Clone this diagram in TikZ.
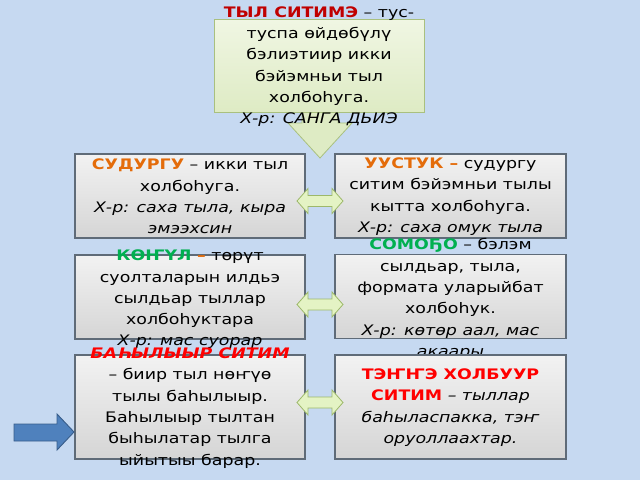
\documentclass[tikz,border=0pt]{standalone}
\usepackage{fontspec}
\setmainfont{DejaVu Sans}[FakeStretch=1.2]
\definecolor{bgblue}{HTML}{C6D9F1}
\definecolor{boxtop}{HTML}{F2F2F2}
\definecolor{boxbot}{HTML}{D5D5D5}
\definecolor{boxline}{HTML}{5F6B78}
\definecolor{greentop}{HTML}{F0F6E3}
\definecolor{greenbot}{HTML}{DEEBC4}
\definecolor{greenline}{HTML}{A9C07F}
\definecolor{limefill}{HTML}{E4F3C4}
\definecolor{limeline}{HTML}{9DB86A}
\definecolor{orng}{HTML}{E46C0A}
\definecolor{grn}{HTML}{00B050}
\definecolor{dred}{HTML}{C00000}
\definecolor{bred}{HTML}{FF0000}
\definecolor{blfill}{HTML}{4F81BD}
\definecolor{blline}{HTML}{385D8A}
\begin{document}
\begin{tikzpicture}[x=1pt,y=-1pt,
  graybox/.style={draw=boxline, line width=1.2pt, top color=boxtop, bottom color=boxbot,
    minimum width=230pt, minimum height=84pt, inner sep=0pt, outer sep=0pt},
  greenbox/.style={draw=greenline, line width=0.8pt, top color=greentop, bottom color=greenbot,
    minimum width=210pt, minimum height=93pt, inner sep=0pt, outer sep=0pt},
  txt/.style={align=center, inner sep=0pt, font=\fontsize{14.5}{21.3}\selectfont},
  dbl/.style={fill=limefill, draw=limeline, line width=0.8pt, line join=miter},
]
\useasboundingbox (0,0) rectangle (640,480);
\fill[bgblue] (0,0) rectangle (640,480);

% down arrow behind top box
\draw[fill=greenbot, draw=greenline, line width=0.8pt]
  (302,100) -- (338,100) -- (338,123) -- (352,123) -- (320,158) -- (288,123) -- (302,123) -- cycle;

% top box
\node[greenbox] (top) at (319,65.5) {};
\node[txt] (toptxt) at (319,66.5) {{\bfseries\color{dred}ТЫЛ СИТИМЭ} – тус-\\туспа өйдөбүлү\\бэлиэтиир икки\\бэйэмньи тыл\\холбоһуга.\\\textit{Х-р: САНГА ДЬИЭ}};

% row 1
\node[graybox] (l1) at (190,196) {};
\node[txt] (l1t) at (190,196.5) {{\bfseries\color{orng}СУДУРГУ} – икки тыл\\холбоһуга.\\\textit{Х-р: саха тыла, кыра}\\\textit{эмээхсин}};
\node[graybox, minimum width=231pt] (r1) at (450.5,196) {};
\node[txt] (r1t) at (450.5,196.5) {{\bfseries\color{orng}УУСТУК –} судургу\\ситим бэйэмньи тылы\\кытта холбоһуга.\\\textit{Х-р: саха омук тыла}};

% row 2
\node[graybox] (l2) at (190,297) {};
\node[txt] (l2t) at (190,299.5) {{\bfseries\color{grn}КӨҤҮЛ} {\bfseries\color{orng}–} төрүт\\суолталарын илдьэ\\сылдьар тыллар\\холбоһуктара\\\textit{Х-р: мас суорар}};
\node[graybox, minimum width=231pt] (r2) at (450.5,296.5) {};
\node[txt] (r2t) at (450.5,299) {{\bfseries\color{grn}СОМОҔО} – бэлэм\\сылдьар, тыла,\\формата уларыйбат\\холбоһук.\\\textit{Х-р: көтөр аал, мас}\\\textit{акаары}};

% row 3
\node[graybox, minimum height=104pt] (l3) at (190,407) {};
\node[txt] (l3t) at (190,408) {\itshape{\bfseries\color{bred}БАҺЫЛЫЫР СИТИМ}\\– биир тыл нөҥүө\\тылы баһылыыр.\\Баһылыыр тылтан\\быһылатар тылга\\ыйытыы барар.};
\node[graybox, minimum width=231pt, minimum height=104pt] (r3) at (450.5,407) {};
\node[txt] (r3t) at (450.5,407.5) {{\bfseries\color{bred}ТЭҤҤЭ ХОЛБУУР}\\{\bfseries\color{bred}СИТИМ} \textit{– тыллар}\\\textit{баһыласпакка, тэҥ}\\\textit{оруоллаахтар.}};

% double arrows
\foreach \yy in {201,304.5,402.5}{
  \draw[dbl] (297,\yy) -- (308,\yy-12.5) -- (308,\yy-5.5) -- (332,\yy-5.5) -- (332,\yy-12.5)
    -- (343,\yy) -- (332,\yy+12.5) -- (332,\yy+5.5) -- (308,\yy+5.5) -- (308,\yy+12.5) -- cycle;
}

% blue arrow
\draw[fill=blfill, draw=blline, line width=0.9pt, line join=miter]
  (14,424) -- (57,424) -- (57,414) -- (74,432) -- (57,450) -- (57,441) -- (14,441) -- cycle;
\end{tikzpicture}
\end{document}
